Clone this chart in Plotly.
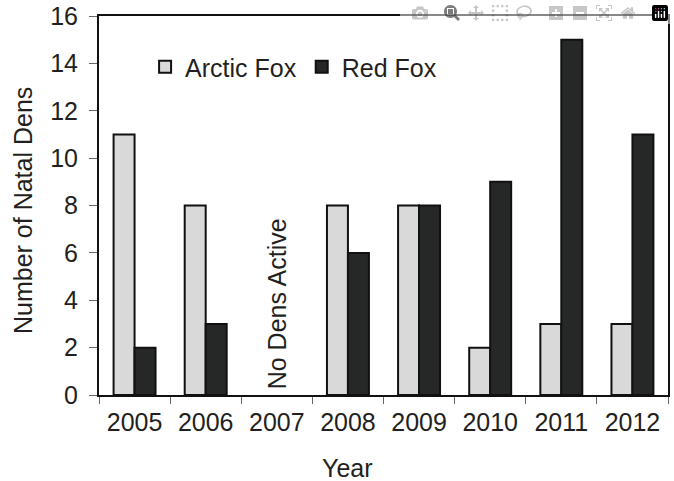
import plotly.graph_objects as go

years = ["2005", "2006", "2007", "2008", "2009", "2010", "2011", "2012"]
arctic_fox = [11, 8, None, 8, 8, 2, 3, 3]   # 2007: no dens active
red_fox = [2, 3, None, 6, 8, 9, 15, 11]
y_ticks = [0, 2, 4, 6, 8, 10, 12, 14, 16]

FONT = "Liberation Sans, Arial, sans-serif"
TXT = "#231f20"
FS = 25

W, H = 674, 481
ML, MR, MT, MB = 99, 6, 16, 86
PW, PH = W - ML - MR, H - MT - MB

fig = go.Figure()
fig.add_trace(go.Bar(x=years, y=arctic_fox, name="Arctic Fox",
                     marker=dict(color="#d9d9d9", line=dict(color="#111111", width=2))))
fig.add_trace(go.Bar(x=years, y=red_fox, name="Red Fox",
                     marker=dict(color="#262827", line=dict(color="#111111", width=2))))

# rotated note over the 2007 category (index 2 on the category axis)
fig.add_annotation(x=years.index("2007"), y=0, xref="x", yref="y", text="No Dens Active",
                   textangle=-90, showarrow=False, yanchor="bottom", xanchor="center",
                   yshift=4, font=dict(family=FONT, size=FS, color=TXT))

# axis titles
fig.add_annotation(x=(23 - ML) / PW, y=(PH - 195) / PH, xref="paper", yref="paper",
                   text="Number of Natal Dens", textangle=-90, showarrow=False,
                   xanchor="center", yanchor="middle",
                   font=dict(family=FONT, size=FS, color=TXT))
fig.add_annotation(x=(347 - ML) / PW, y=-(468 - MT - PH) / PH, xref="paper", yref="paper",
                   text="Year", showarrow=False, xanchor="center", yanchor="middle",
                   font=dict(family=FONT, size=FS, color=TXT))

fig.update_layout(
    width=W, height=H,
    margin=dict(l=ML, r=MR, t=MT, b=MB),
    paper_bgcolor="white", plot_bgcolor="white",
    barmode="group", bargap=0.41, bargroupgap=0,
    font=dict(family=FONT, size=FS, color=TXT),
    showlegend=True,
    legend=dict(orientation="h", x=0.081, y=(PH - 51) / PH, xanchor="left", yanchor="middle",
                bgcolor="rgba(0,0,0,0)", itemwidth=30,
                font=dict(family=FONT, size=FS, color=TXT)),
    xaxis=dict(type="category", categoryorder="array", categoryarray=years,
               range=[-0.5, 7.5], autorange=False, automargin=False,
               showline=True, linecolor="#111111", linewidth=2, mirror=True,
               ticks="outside", tickson="boundaries", ticklen=7, tickcolor="#666666",
               ticklabelstandoff=4, showgrid=False, tickangle=0,
               tickfont=dict(size=FS)),
    yaxis=dict(range=[0, 16], tickvals=y_ticks, automargin=False,
               showline=True, linecolor="#111111",
               linewidth=2, mirror=True, ticks="outside", ticklen=8, tickcolor="#666666",
               ticklabelstandoff=6, ticklabeloverflow="allow",
               showgrid=False, zeroline=False, tickfont=dict(size=FS)),
)

# remove the page's default 8px body margin so the figure fills the window exactly
fig.write_html("out.html", post_script="document.body.style.margin='0';")
